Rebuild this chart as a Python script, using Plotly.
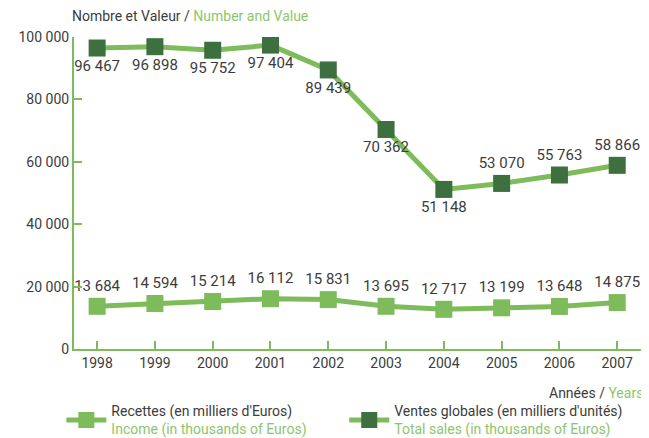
import plotly.graph_objects as go

years = [1998, 1999, 2000, 2001, 2002, 2003, 2004, 2005, 2006, 2007]
income = [13684, 14594, 15214, 16112, 15831, 13695, 12717, 13199, 13648, 14875]
sales = [96467, 96898, 95752, 97404, 89439, 70362, 51148, 53070, 55763, 58866]
sales_pos = ["bottom center"] * 7 + ["top center", "top center", "top center"]
y_ticks = [0, 20000, 40000, 60000, 80000, 100000]
y_tick_labels = ["0", "20 000", "40 000", "60 000", "80 000", "100 000"]

def fmt(v):
    return f"{v:,}".replace(",", " ")

GRAY = "#3c3c3c"
GREEN_TXT = "#8cc66c"
LINE = "#7dbb5b"
DARK = "#3d6f3f"
FONT = "Roboto, sans-serif"

fig = go.Figure()
fig.add_trace(go.Scatter(
    x=years, y=income, mode="lines+markers+text",
    line=dict(color=LINE, width=5),
    marker=dict(symbol="square", size=17, color=LINE),
    text=[fmt(v) for v in income], textposition="top center",
    textfont=dict(size=15, color=GRAY, family=FONT),
    legend="legend",
    name=f"<span style='color:{GRAY}'>Recettes (en milliers d'Euros)</span><br><span style='color:{GREEN_TXT}'>Income (in thousands of Euros)</span>",
))
fig.add_trace(go.Scatter(
    x=years, y=sales, mode="lines+markers+text",
    line=dict(color=LINE, width=5),
    marker=dict(symbol="square", size=17, color=DARK),
    text=[fmt(v) for v in sales], textposition=sales_pos,
    textfont=dict(size=15, color=GRAY, family=FONT),
    legend="legend2",
    name=f"<span style='color:{GRAY}'>Ventes globales (en milliers d'unités)</span><br><span style='color:{GREEN_TXT}'>Total sales (in thousands of Euros)</span>",
))

leg_common = dict(xanchor="left", yanchor="top", font=dict(size=14, family=FONT),
                  itemwidth=40, valign="middle", bgcolor="rgba(0,0,0,0)")

# page body has an 8px margin, so the figure is drawn 8px smaller and offset
fig.update_layout(
    width=641, height=430,
    margin=dict(l=66, r=0, t=29, b=89, autoexpand=False),
    paper_bgcolor="white", plot_bgcolor="white",
    font=dict(family=FONT, size=14, color=GRAY),
    showlegend=True,
    legend=dict(x=-0.022, y=-0.148, **leg_common),
    legend2=dict(x=0.47, y=-0.148, **leg_common),
    xaxis=dict(range=[1997.6, 2007.55], tickvals=years, ticktext=[str(y) for y in years],
               showgrid=False, zeroline=False, showline=True, linecolor=LINE, linewidth=2,
               ticks="inside", ticklen=8, tickwidth=2, tickcolor=LINE,
               tickfont=dict(size=14, color=GRAY, family=FONT)),
    yaxis=dict(range=[0, 100000], tickvals=y_ticks, ticktext=y_tick_labels,
               showgrid=False, zeroline=False, showline=True, linecolor=LINE, linewidth=2,
               ticks="inside", ticklen=8, tickwidth=2, tickcolor=LINE,
               tickfont=dict(size=14, color=GRAY, family=FONT)),
    annotations=[
        dict(text=f"Nombre et Valeur / <span style='color:{GREEN_TXT}'>Number and Value</span>",
             xref="paper", yref="paper", x=0, y=1, xshift=-4, yshift=11,
             xanchor="left", yanchor="bottom", showarrow=False,
             font=dict(size=14, color=GRAY, family=FONT)),
        dict(text=f"Années / <span style='color:{GREEN_TXT}'>Years</span>",
             xref="paper", yref="paper", x=1, y=0, xshift=-4, yshift=-34,
             xanchor="right", yanchor="top", showarrow=False,
             font=dict(size=14, color=GRAY, family=FONT)),
    ],
)

fig.write_html("out.html")
